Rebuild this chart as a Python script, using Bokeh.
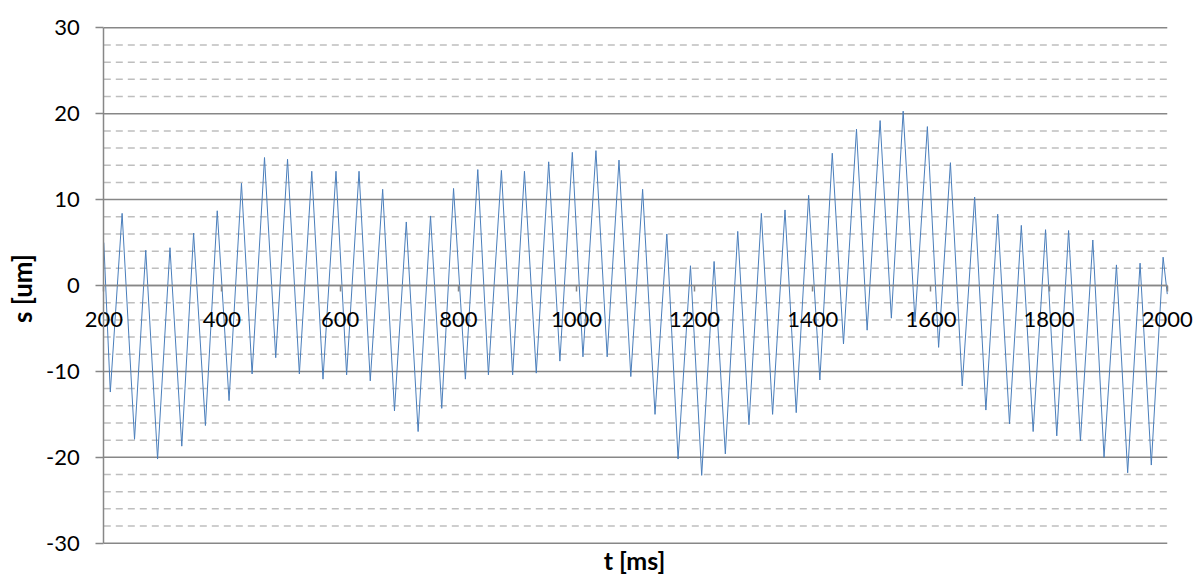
import math
from bokeh.plotting import figure
from bokeh.models import (FixedTicker, Range1d, LinearAxis, Label, ColumnDataSource,
                          PrintfTickFormatter)
from bokeh.embed import file_html
from bokeh.resources import INLINE

# ---------------- data ----------------
# Extrema of the displacement signal (t in ms, s in um)
t_ms = [200, 211, 231, 252, 271, 291, 312, 332, 352, 372, 392, 412, 433, 451, 472, 491,
        511, 531, 552, 571, 593, 611, 632, 651, 672, 692, 712, 732, 753, 772, 792,
        812, 833, 851, 873, 892, 912, 932, 953, 972, 993, 1011, 1033, 1052, 1072, 1092,
        1112, 1133, 1153, 1172, 1193, 1212, 1233, 1252, 1273, 1292, 1313, 1332, 1353, 1372,
        1393, 1412, 1433, 1452, 1474, 1492, 1514, 1533, 1553, 1573, 1594, 1613, 1633, 1653,
        1674, 1693, 1713, 1733, 1753, 1773, 1794, 1813, 1833, 1853, 1874, 1893, 1914, 1933,
        1954, 1973, 1993, 2000]
s_um = [5.0, -12.4, 8.4, -17.9, 4.1, -20.2, 4.4, -18.7, 6.1, -16.3, 8.7, -13.4, 11.9, -10.3, 14.9, -8.4,
        14.7, -10.3, 13.3, -10.9, 13.3, -10.4, 13.3, -11.1, 11.2, -14.6, 7.4, -17.0, 8.1, -14.3, 11.3,
        -10.9, 13.5, -10.4, 13.4, -10.4, 13.3, -10.2, 14.4, -8.8, 15.5, -8.3, 15.7, -8.3, 14.6, -10.6,
        11.2, -15.0, 6.0, -20.2, 2.3, -22.1, 2.8, -19.6, 6.3, -16.2, 8.4, -15.0, 8.8, -14.8,
        10.5, -11.0, 15.4, -6.8, 18.2, -5.2, 19.2, -3.8, 20.3, -4.2, 18.5, -7.2, 14.3, -11.7,
        10.3, -14.5, 8.3, -16.1, 7.0, -17.0, 6.5, -17.5, 6.4, -18.1, 5.3, -20.0, 2.4, -21.8,
        2.6, -20.9, 3.3, -1.0]

T_START = 200
T_END = 2000
x_ticks = [200, 400, 600, 800, 1000, 1200, 1400, 1600, 1800, 2000]
y_ticks = [-30, -20, -10, 0, 10, 20, 30]
y_minor = [-28, -26, -24, -22, -18, -16, -14, -12, -8, -6, -4, -2,
           2, 4, 6, 8, 12, 14, 16, 18, 22, 24, 26, 28]
x_title = "t [ms]"
y_title = "s [um]"

# ---------------- figure ----------------
FONT = "Lato"
GRID = "#878787"
MINOR = "#bebebe"

W, H = 1196, 577
# the frame covers the whole canvas; the plot area (200..2000, -30..30) sits inside it
p = figure(width=W, height=H,
           x_range=Range1d(25.15, 2049.5), y_range=Range1d(-33.99, 33.18),
           x_axis_location=None, y_axis_location=None, min_border=0,
           output_backend="svg", toolbar_location=None)
p.outline_line_color = None
p.background_fill_color = "white"
for g in p.grid:
    g.visible = False

# gridlines restricted to the plot area
minor_src = ColumnDataSource(dict(y=y_minor))
major_src = ColumnDataSource(dict(y=y_ticks))
p.segment(x0=T_START, x1=T_END, y0="y", y1="y", source=minor_src,
          line_color=MINOR, line_width=1.5, line_dash="7 5")
p.segment(x0=T_START, x1=T_END, y0="y", y1="y", source=major_src,
          line_color=GRID, line_width=1.5)

# signal
p.line(t_ms, s_um, line_color="#4a7ebb", line_width=1)

# y axis at t = 200
yax = LinearAxis(fixed_location=T_START, bounds=(y_ticks[0], y_ticks[-1]),
                 ticker=FixedTicker(ticks=y_ticks),
                 formatter=PrintfTickFormatter(format="%d"))
yax.major_label_text_font = FONT
yax.major_label_text_font_size = "22px"
yax.major_label_text_color = "black"
yax.major_label_standoff = 16
yax.axis_line_color = GRID
yax.axis_line_width = 1.5
yax.major_tick_line_color = GRID
yax.major_tick_line_width = 1.5
yax.major_tick_out = 8
yax.major_tick_in = 0
yax.minor_tick_out = 0
yax.minor_tick_in = 0
p.add_layout(yax, "left")

# x axis crossing at s = 0
xax = LinearAxis(fixed_location=0, bounds=(T_START, T_END),
                 ticker=FixedTicker(ticks=x_ticks),
                 formatter=PrintfTickFormatter(format="%d"))
xax.major_label_text_font = FONT
xax.major_label_text_font_size = "22px"
xax.major_label_text_color = "black"
xax.major_label_standoff = 20
xax.axis_line_color = GRID
xax.axis_line_width = 1.5
xax.major_tick_line_color = GRID
xax.major_tick_line_width = 1.5
xax.major_tick_out = 6
xax.major_tick_in = 0
xax.minor_tick_out = 0
xax.minor_tick_in = 0
p.add_layout(xax, "below")

# axis titles
p.add_layout(Label(x=21, y=H - 288, x_units="screen", y_units="screen", text=y_title,
                   angle=math.pi / 2, text_align="center", text_baseline="middle",
                   text_font=FONT, text_font_style="bold", text_font_size="26px",
                   text_color="black"))
p.add_layout(Label(x=634, y=H - 559, x_units="screen", y_units="screen", text=x_title,
                   text_align="center", text_baseline="middle",
                   text_font=FONT, text_font_style="bold", text_font_size="25px",
                   text_color="black"))

open("out.html", "w").write(file_html(p, INLINE))
